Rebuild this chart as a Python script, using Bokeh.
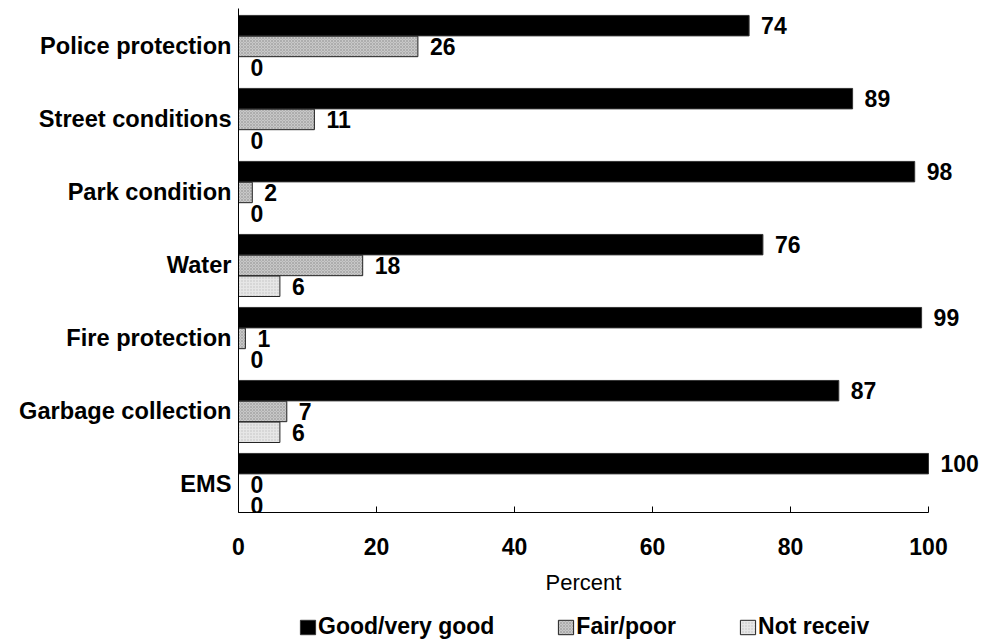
from bokeh.plotting import figure
from bokeh.layouts import column
from bokeh.models import Range1d, FixedTicker, Legend, LegendItem, ColumnDataSource, Label
from bokeh.core.properties import value
from bokeh.embed import file_html
from bokeh.resources import INLINE

categories = ["Police protection", "Street conditions", "Park condition", "Water",
              "Fire protection", "Garbage collection", "EMS"]
good = [74, 89, 98, 76, 99, 87, 100]
fair = [26, 11, 2, 18, 1, 7, 0]
not_received = [0, 0, 0, 6, 0, 6, 0]
series_names = ["Good/very good", "Fair/poor", "Not receiv"]
x_ticks = [0, 20, 40, 60, 80, 100]
x_title = "Percent"

FONT = "Liberation Sans"
n = len(categories)
pos = [n - i for i in range(n)]  # top category highest
off = 0.285
bar_h = 0.28

STYLES = [
    dict(fill_color="black", line_color="#333333", line_width=1),
    dict(fill_color="#c8c8c8", line_color="#222222", line_width=1,
         hatch_pattern="diagonal_cross", hatch_color="#939393", hatch_scale=3, hatch_weight=0.5),
    dict(fill_color="#e6e6e6", line_color="#222222", line_width=1,
         hatch_pattern="dot", hatch_color="#c0c0c0", hatch_scale=3, hatch_weight=0.6),
]

W = 979
xr = Range1d(0, 107.39)
p = figure(width=W, height=560, output_backend="svg", toolbar_location=None,
           x_range=xr, y_range=Range1d(0.616, 7.52),
           min_border_left=238, min_border_right=0, min_border_top=8,
           min_border_bottom=48)
p.outline_line_color = None
p.xgrid.grid_line_color = None
p.ygrid.grid_line_color = None

sources = [
    ColumnDataSource(dict(y=[v + off for v in pos], x=good, lab=[str(v) for v in good])),
    ColumnDataSource(dict(y=pos, x=fair, lab=[str(v) for v in fair])),
    ColumnDataSource(dict(y=[v - off for v in pos], x=not_received, lab=[str(v) for v in not_received])),
]

for src, st in zip(sources, STYLES):
    p.hbar(y="y", right="x", left=0, height=bar_h, source=src, **st)
    p.text(x="x", y="y", text="lab", source=src, x_offset=12,
           text_baseline="middle", text_align="left",
           text_font=value(FONT), text_font_style="bold", text_font_size="23px",
           text_color="black")

# y axis
p.yaxis.ticker = FixedTicker(ticks=pos)
p.yaxis.major_label_overrides = {pv: c for pv, c in zip(pos, categories)}
p.yaxis.major_tick_in = 0
p.yaxis.major_tick_out = 0
p.yaxis.minor_tick_line_color = None
p.yaxis.major_label_standoff = 7
p.yaxis.major_label_text_font = FONT
p.yaxis.major_label_text_font_style = "bold"
p.yaxis.major_label_text_font_size = "23.6px"
p.yaxis.major_label_text_color = "black"
p.yaxis.axis_line_color = "black"

# x axis
p.xaxis.ticker = FixedTicker(ticks=x_ticks)
p.xaxis.bounds = (x_ticks[0], x_ticks[-1])
p.xaxis.major_tick_in = 6
p.xaxis.major_tick_out = 0
p.xaxis.major_tick_line_color = "black"
p.xaxis.minor_tick_line_color = None
p.xaxis.major_label_standoff = 25
p.xaxis.major_label_text_font = FONT
p.xaxis.major_label_text_font_style = "bold"
p.xaxis.major_label_text_font_size = "23px"
p.xaxis.major_label_text_color = "black"
p.xaxis.axis_line_color = "black"

# strip below: axis title + legend
lg = figure(width=W, height=80, output_backend="svg", toolbar_location=None,
            x_range=xr, y_range=Range1d(0, 1),
            min_border_left=0, min_border_right=0, min_border_top=0, min_border_bottom=0)
lg.axis.visible = False
lg.grid.visible = False
lg.outline_line_color = None
lg.add_layout(Label(x=(x_ticks[0] + x_ticks[-1]) / 2, y=58, y_units="screen", text=x_title,
                    text_align="center", text_baseline="middle",
                    text_font=FONT, text_font_size="22px", text_color="black"))
dummy = ColumnDataSource(dict(y=[-5], x=[0]))
rends = [lg.hbar(y="y", right="x", left=0, height=0.1, source=dummy, **st) for st in STYLES]
legend = Legend(items=[LegendItem(label=nm, renderers=[r]) for nm, r in zip(series_names, rends)],
                orientation="horizontal", location=(60, 0),
                label_text_font=FONT, label_text_font_style="bold",
                label_text_font_size="23px", label_text_color="black",
                glyph_width=19, glyph_height=18, label_standoff=1,
                spacing=62, padding=0, margin=0, border_line_color=None,
                background_fill_alpha=0)
lg.add_layout(legend)

open("out.html", "w").write(file_html(column(p, lg, spacing=0), INLINE))
